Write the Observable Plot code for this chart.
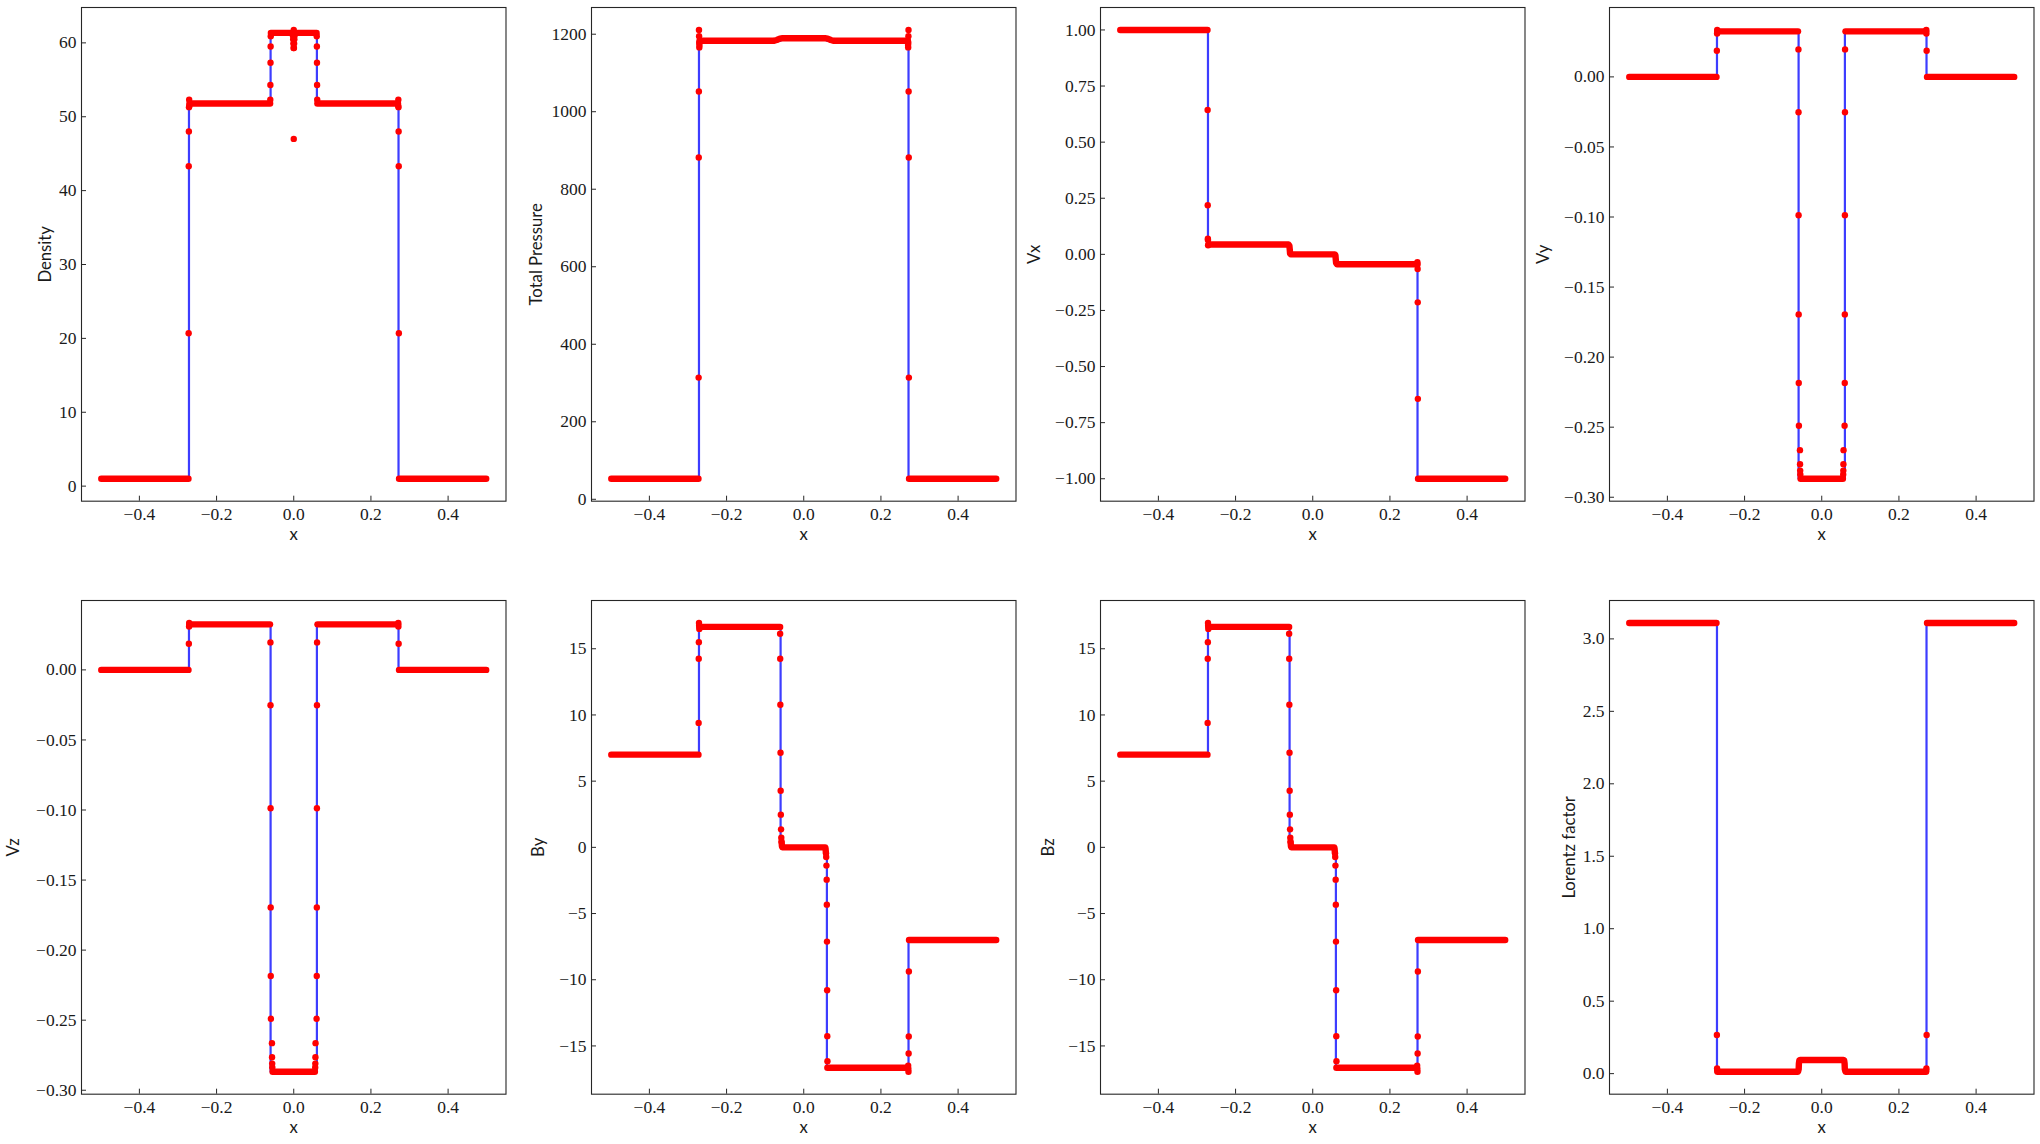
<!DOCTYPE html>
<html>
<head>
<meta charset="utf-8">
<script src="https://cdn.jsdelivr.net/npm/d3@7"></script>
<script src="https://cdn.jsdelivr.net/npm/@observablehq/plot@0.6"></script>
<style>
html, body { margin: 0; padding: 0; background: #fff; }
#fig { position: relative; width: 2040px; height: 1144px; overflow: hidden; background: #fff; }
#fig > svg { position: absolute; overflow: visible; }
</style>
</head>
<body>
<div id="fig"></div>
<script>
// ---------------- data ----------------
const xTicks = [-0.4, -0.2, 0, 0.2, 0.4];

// Density
const densityExact = [[-0.5,1.0],[-0.2715,1.0],[-0.2715,51.8],[-0.06,51.8],[-0.06,61.35],[0.06,61.35],[0.06,51.8],[0.2715,51.8],[0.2715,1.0],[0.5,1.0]];
const densityBands = [
  [[-0.49875,1.0],[-0.2728,1.0]],
  [[-0.2702,51.8],[-0.0612,51.8]],
  [[-0.0592,61.35],[0.0592,61.35]],
  [[0.0612,51.8],[0.2702,51.8]],
  [[0.2728,1.0],[0.49875,1.0]]
];
const densityDots = [
  [-0.2724,20.7],[-0.2721,43.3],[-0.2718,48.0],[-0.2714,51.3],[-0.2710,52.3],[-0.2706,51.5],
  [-0.0608,52.3],[-0.0605,54.3],[-0.0602,57.3],[-0.0599,59.5],[-0.0596,60.9],
  [-0.0022,61.0],[-0.0015,60.5],[-0.001,59.9],[-0.0005,59.3],[0.0005,59.3],[0.001,59.9],[0.0015,60.5],[0.0022,61.0],[0,61.75],[0,47.0],
  [0.0596,60.9],[0.0599,59.5],[0.0602,57.3],[0.0605,54.3],[0.0608,52.3],
  [0.2706,51.5],[0.2710,52.3],[0.2714,51.3],[0.2718,48.0],[0.2721,43.3],[0.2724,20.7]
];
const densityTicks = [0,10,20,30,40,50,60];

// Total pressure
const pressureExact = [[-0.5,53],[-0.2715,53],[-0.2715,1183],[-0.06,1183],[-0.06,1189.5],[0.06,1189.5],[0.06,1183],[0.2715,1183],[0.2715,53],[0.5,53]];
const pressureBands = [
  [[-0.49875,53],[-0.2728,53]],
  [[-0.2700,1183],[-0.078,1183],[-0.070,1185],[-0.062,1188.5],[-0.055,1189.5],[0.055,1189.5],[0.062,1188.5],[0.070,1185],[0.078,1183],[0.2700,1183]],
  [[0.2728,53],[0.49875,53]]
];
const pressureDots = [
  [-0.2724,314],[-0.2721,882],[-0.2718,1052],[-0.2715,1211],[-0.2712,1195],[-0.2709,1178],[-0.2706,1166],[-0.2703,1172],
  [0.2703,1172],[0.2706,1166],[0.2709,1178],[0.2712,1195],[0.2715,1211],[0.2718,1052],[0.2721,882],[0.2724,314]
];
const pressureTicks = [0,200,400,600,800,1000,1200];

// Vx
const vxExact = [[-0.5,1],[-0.2715,1],[-0.2715,0.044],[-0.06,0.044],[-0.06,0],[0.06,0],[0.06,-0.044],[0.2715,-0.044],[0.2715,-1],[0.5,-1]];
const vxBands = [
  [[-0.49875,1.0],[-0.2728,1.0]],
  [[-0.2702,0.044],[-0.0625,0.044],[-0.0605,0.038],[-0.0595,0.02],[-0.0588,0.004],[-0.057,0.0],[0.0575,0.0],[0.0588,-0.004],[0.0595,-0.02],[0.0605,-0.038],[0.0625,-0.044],[0.2702,-0.044]],
  [[0.2728,-1.0],[0.49875,-1.0]]
];
const vxDots = [
  [-0.2724,0.643],[-0.2721,0.219],[-0.2718,0.070],[-0.2715,0.064],[-0.2712,0.040],
  [0.2712,-0.035],[0.2715,-0.045],[0.2718,-0.065],[0.2721,-0.214],[0.2724,-0.644]
];
const vxTicks = [-1,-0.75,-0.5,-0.25,0,0.25,0.5,0.75,1];

// Vy
const vyExact = [[-0.5,0],[-0.2715,0],[-0.2715,0.0325],[-0.06,0.0325],[-0.06,-0.2868],[0.06,-0.2868],[0.06,0.0325],[0.2715,0.0325],[0.2715,0],[0.5,0]];
const vyBands = [
  [[-0.49875,0],[-0.2728,0]],
  [[-0.2705,0.0325],[-0.0615,0.0325]],
  [[-0.0548,-0.2868],[0.0548,-0.2868]],
  [[0.0615,0.0325],[0.2705,0.0325]],
  [[0.2728,0],[0.49875,0]]
];
const vyDots = [
  [-0.2718,0.0187],[-0.2712,0.031],[-0.2709,0.0335],
  [-0.0604,0.0196],[-0.0602,-0.0252],[-0.0600,-0.0987],[-0.0598,-0.1695],[-0.0596,-0.2185],[-0.0592,-0.249],[-0.0565,-0.2664],[-0.0562,-0.2764],[-0.0559,-0.281],[-0.0556,-0.2838],
  [0.0556,-0.2838],[0.0559,-0.281],[0.0562,-0.2764],[0.0565,-0.2664],[0.0592,-0.249],[0.0596,-0.2185],[0.0598,-0.1695],[0.0600,-0.0987],[0.0602,-0.0252],[0.0604,0.0196],
  [0.2709,0.0335],[0.2712,0.031],[0.2718,0.0187]
];
const vyTicks = [0,-0.05,-0.1,-0.15,-0.2,-0.25,-0.3];

// Vz
const vzExact = [[-0.5,0],[-0.2715,0],[-0.2715,0.0325],[-0.06,0.0325],[-0.06,-0.2868],[0.06,-0.2868],[0.06,0.0325],[0.2715,0.0325],[0.2715,0],[0.5,0]];
const vzBands = [
  [[-0.49875,0],[-0.2728,0]],
  [[-0.2705,0.0325],[-0.0615,0.0325]],
  [[-0.0548,-0.2868],[0.0548,-0.2868]],
  [[0.0615,0.0325],[0.2705,0.0325]],
  [[0.2728,0],[0.49875,0]]
];
const vzDots = [
  [-0.2718,0.0187],[-0.2712,0.031],[-0.2709,0.0335],
  [-0.0604,0.0196],[-0.0602,-0.0252],[-0.0600,-0.0987],[-0.0598,-0.1695],[-0.0596,-0.2185],[-0.0592,-0.249],[-0.0565,-0.2664],[-0.0562,-0.2764],[-0.0559,-0.281],[-0.0556,-0.2838],
  [0.0556,-0.2838],[0.0559,-0.281],[0.0562,-0.2764],[0.0565,-0.2664],[0.0592,-0.249],[0.0596,-0.2185],[0.0598,-0.1695],[0.0600,-0.0987],[0.0602,-0.0252],[0.0604,0.0196],
  [0.2709,0.0335],[0.2712,0.031],[0.2718,0.0187]
];
const vzTicks = [0,-0.05,-0.1,-0.15,-0.2,-0.25,-0.3];

// By
const byExact = [[-0.5,7.0],[-0.2715,7.0],[-0.2715,16.65],[-0.06,16.65],[-0.06,0],[0.06,0],[0.06,-16.65],[0.2715,-16.65],[0.2715,-7.0],[0.5,-7.0]];
const byBands = [
  [[-0.49875,7.0],[-0.2728,7.0]],
  [[-0.2702,16.65],[-0.0612,16.65]],
  [[-0.0572,0.35],[-0.0566,0.1],[-0.0558,0.0],[0.0558,0.0],[0.0566,-0.1],[0.0572,-0.35]],
  [[0.0612,-16.65],[0.2702,-16.65]],
  [[0.2728,-7.0],[0.49875,-7.0]]
];
const byDots = [
  [-0.2724,9.4],[-0.2721,14.25],[-0.2718,15.5],[-0.2714,16.95],[-0.2710,16.75],[-0.2706,16.5],
  [-0.0612,16.13],[-0.0610,14.24],[-0.0606,10.77],[-0.0602,7.14],[-0.0598,4.28],[-0.0594,2.47],[-0.0588,1.36],[-0.0582,0.73],[-0.0577,0.45],
  [0.0577,-0.45],[0.0582,-0.73],[0.0588,-1.38],[0.0594,-2.44],[0.0598,-4.33],[0.0602,-7.12],[0.0606,-10.79],[0.0610,-14.26],[0.0614,-16.15],
  [0.2706,-16.5],[0.2710,-16.75],[0.2714,-16.95],[0.2718,-15.57],[0.2721,-14.29],[0.2724,-9.38]
];
const byTicks = [-15,-10,-5,0,5,10,15];

// Bz
const bzExact = [[-0.5,7.0],[-0.2715,7.0],[-0.2715,16.65],[-0.06,16.65],[-0.06,0],[0.06,0],[0.06,-16.65],[0.2715,-16.65],[0.2715,-7.0],[0.5,-7.0]];
const bzBands = [
  [[-0.49875,7.0],[-0.2728,7.0]],
  [[-0.2702,16.65],[-0.0612,16.65]],
  [[-0.0572,0.35],[-0.0566,0.1],[-0.0558,0.0],[0.0558,0.0],[0.0566,-0.1],[0.0572,-0.35]],
  [[0.0612,-16.65],[0.2702,-16.65]],
  [[0.2728,-7.0],[0.49875,-7.0]]
];
const bzDots = [
  [-0.2724,9.4],[-0.2721,14.25],[-0.2718,15.5],[-0.2714,16.95],[-0.2710,16.75],[-0.2706,16.5],
  [-0.0612,16.13],[-0.0610,14.24],[-0.0606,10.77],[-0.0602,7.14],[-0.0598,4.28],[-0.0594,2.47],[-0.0588,1.36],[-0.0582,0.73],[-0.0577,0.45],
  [0.0577,-0.45],[0.0582,-0.73],[0.0588,-1.38],[0.0594,-2.44],[0.0598,-4.33],[0.0602,-7.12],[0.0606,-10.79],[0.0610,-14.26],[0.0614,-16.15],
  [0.2706,-16.5],[0.2710,-16.75],[0.2714,-16.95],[0.2718,-15.57],[0.2721,-14.29],[0.2724,-9.38]
];
const bzTicks = [-15,-10,-5,0,5,10,15];

// Lorentz factor
const lorentzExact = [[-0.5,3.11],[-0.2715,3.11],[-0.2715,0.013],[-0.06,0.013],[-0.06,0.094],[0.06,0.094],[0.06,0.013],[0.2715,0.013],[0.2715,3.11],[0.5,3.11]];
const lorentzBands = [
  [[-0.49875,3.11],[-0.2728,3.11]],
  [[-0.2702,0.013],[-0.0615,0.013],[-0.0598,0.03],[-0.0592,0.07],[-0.058,0.092],[-0.056,0.094],[0.056,0.094],[0.058,0.092],[0.0592,0.07],[0.0598,0.03],[0.0615,0.013],[0.2702,0.013]],
  [[0.2728,3.11],[0.49875,3.11]]
];
const lorentzDots = [[-0.2718,0.267],[-0.2712,0.035],[-0.2708,0.02],[0.2708,0.02],[0.2712,0.035],[0.2718,0.267]];
const lorentzTicks = [0,0.5,1,1.5,2,2.5,3];

// ---------------- panel table ----------------
const panels = [
  {label:"Density",        exact:densityExact,  bands:densityBands,  dots:densityDots,  ticks:densityTicks,  fmt:"d",   col:0,row:0,lab:36},
  {label:"Total Pressure", exact:pressureExact, bands:pressureBands, dots:pressureDots, ticks:pressureTicks, fmt:"d",   col:1,row:0,lab:55},
  {label:"Vx",             exact:vxExact,       bands:vxBands,       dots:vxDots,       ticks:vxTicks,       fmt:".2f", col:2,row:0,lab:66},
  {label:"Vy",             exact:vyExact,       bands:vyBands,       dots:vyDots,       ticks:vyTicks,       fmt:".2f", col:3,row:0,lab:66},
  {label:"Vz",             exact:vzExact,       bands:vzBands,       dots:vzDots,       ticks:vzTicks,       fmt:".2f", col:0,row:1,lab:68},
  {label:"By",             exact:byExact,       bands:byBands,       dots:byDots,       ticks:byTicks,       fmt:"d",   col:1,row:1,lab:53},
  {label:"Bz",             exact:bzExact,       bands:bzBands,       dots:bzDots,       ticks:bzTicks,       fmt:"d",   col:2,row:1,lab:52},
  {label:"Lorentz factor", exact:lorentzExact,  bands:lorentzBands,  dots:lorentzDots,  ticks:lorentzTicks,  fmt:".1f", col:3,row:1,lab:40}
];

// ---------------- layout ----------------
const COLS = [81.3, 590.5, 1099.8, 1609.2];
const ROWS = [7.3, 600.3];
const W = 424.5, H = 493.7;
const ML = 80, MR = 6, MT = 7, MB = 50;
const RED = "#ff0000", BLUE = "#3d3dff", INK = "#1a1a1a";
const SERIF = "Liberation Serif";
const SANS = "Lato";
const FS_TICK = 17.5, FS_LAB = 16.7;

function pad(ext){ const d = ext[1]-ext[0]; return [ext[0]-0.05*d, ext[1]+0.05*d]; }

const fig = document.getElementById("fig");
for (const p of panels) {
  const exactRows = p.exact.map(([x,y]) => ({x, y}));
  const bandRows = p.bands.flatMap((b,i) => b.map(([x,y]) => ({x, y, g:i})));
  const dotRows = p.dots.map(([x,y]) => ({x, y}));
  const all = [...exactRows, ...bandRows, ...dotRows];
  const xDom = pad(d3.extent(all, d => d.x));
  const yDom = pad(d3.extent(all, d => d.y));

  const svg = Plot.plot({
    width: ML + W + MR,
    height: MT + H + MB,
    marginLeft: ML, marginRight: MR, marginTop: MT, marginBottom: MB,
    style: {fontFamily: SERIF, fontSize: FS_TICK + "px", color: INK, background: "transparent", overflow: "visible"},
    x: {domain: xDom, label: null},
    y: {domain: yDom, label: null},
    marks: [
      Plot.line(exactRows, {x:"x", y:"y", stroke: BLUE, strokeWidth: 2.2}),
      Plot.line(bandRows, {x:"x", y:"y", z:"g", stroke: RED, strokeWidth: 6.4, strokeLinecap:"round", strokeLinejoin:"round"}),
      Plot.dot(dotRows, {x:"x", y:"y", r: 3.2, fill: RED, stroke: null}),
      Plot.frame({stroke: "#262626", strokeWidth: 1.1}),
      // inward ticks
      Plot.axisX(xTicks, {anchor:"bottom", tickSize: 5, dy: -5, tickFormat: () => "", label: null, stroke: "#262626"}),
      Plot.axisY(p.ticks, {anchor:"left", tickSize: 5, dx: 5, tickFormat: () => "", label: null, stroke: "#262626"}),
      // tick labels (serif, as in the LaTeX-rendered original)
      Plot.axisX(xTicks, {anchor:"bottom", tickSize: 0, tickPadding: 6, tickFormat: d3.format(".1f"), label: null, fontFamily: SERIF, fontSize: FS_TICK, fill: INK}),
      Plot.axisY(p.ticks, {anchor:"left", tickSize: 0, tickPadding: 5, tickFormat: d3.format(p.fmt), label: null, fontFamily: SERIF, fontSize: FS_TICK, fill: INK}),
      // axis titles
      Plot.text([p.label], {text: d => d, frameAnchor: "left", dx: -p.lab, rotate: -90, textAnchor: "middle", lineAnchor: "middle", fontFamily: SANS, fontSize: FS_LAB, fill: INK}),
      Plot.text(["x"], {text: d => d, frameAnchor: "bottom", dy: 33, textAnchor: "middle", lineAnchor: "middle", fontFamily: SANS, fontSize: FS_LAB, fill: INK})
    ]
  });
  svg.style.left = (COLS[p.col] - ML) + "px";
  svg.style.top = (ROWS[p.row] - MT) + "px";
  fig.appendChild(svg);
}
</script>
</body>
</html>
